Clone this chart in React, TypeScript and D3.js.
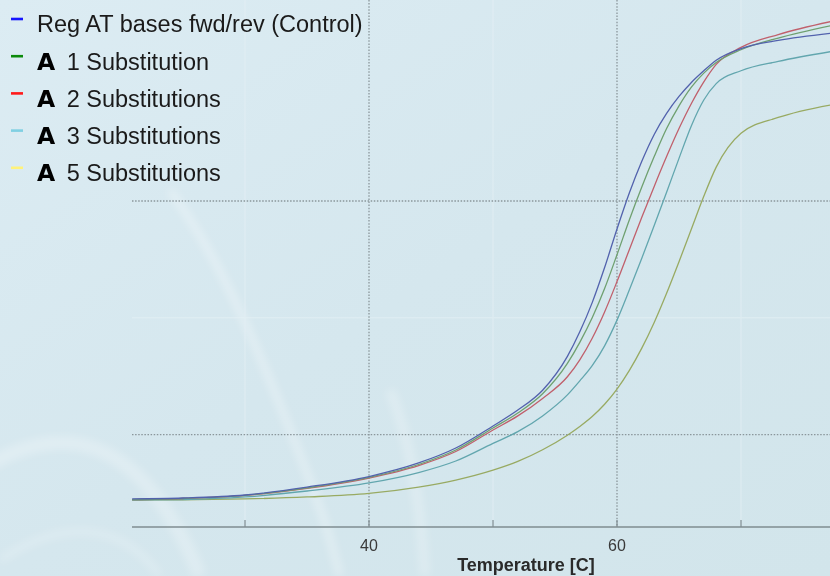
import React from "react";
import * as d3 from "d3";

const temps = [20.9, 25, 30, 35, 40, 44, 47, 50, 52, 54, 56, 57, 58, 59, 60, 61, 62, 63, 64, 65, 66, 67, 68, 70, 73, 77.2];

const control = [14.49, 14.57, 14.83, 15.51, 16.41, 17.57, 18.85, 20.74, 22.1, 23.8, 26.7, 28.8, 31.3, 34.3, 37.6, 40.7, 43.4, 45.7, 47.5, 48.95, 50.15, 51.15, 52.05, 53.05, 53.75, 54.36];
const sub1 = [14.44, 14.53, 14.79, 15.43, 16.33, 17.44, 18.68, 20.57, 21.85, 23.5, 26.1, 27.9, 30.0, 32.5, 35.4, 38.4, 41.2, 43.8, 46.2, 48.15, 49.75, 50.95, 51.85, 52.95, 53.95, 55.0];
const sub2 = [14.44, 14.53, 14.79, 15.39, 16.28, 17.35, 18.55, 20.39, 21.6, 23.1, 24.95, 26.4, 28.25, 30.5, 33.1, 35.85, 38.6, 41.25, 43.8, 46.2, 48.35, 50.2, 51.7, 53.15, 54.25, 55.35];
const sub3 = [14.4, 14.44, 14.66, 15.17, 15.86, 16.75, 17.74, 19.25, 20.25, 21.6, 23.4, 24.6, 25.9, 27.6, 29.8, 32.4, 35.1, 37.9, 40.75, 43.65, 46.45, 48.65, 50.05, 51.15, 51.95, 52.78];
const sub5 = [14.4, 14.42, 14.49, 14.66, 14.96, 15.5, 16.1, 16.95, 17.7, 18.7, 19.95, 20.7, 21.55, 22.6, 23.9, 25.5, 27.4, 29.6, 32.1, 34.8, 37.6, 40.4, 42.9, 45.8, 47.15, 48.22];

const xTicks = [30, 40, 50, 60, 70];
const xLabels = [40, 60];
const majorX = [40, 60];
const minorX = [30, 50, 70];
const majorY = [20, 40];
const minorY = [30];

const legendPrefix = ["", "A", "A", "A", "A"];
const legendLabels = ["Reg AT bases fwd/rev (Control)", "1 Substitution", "2 Substitutions", "3 Substitutions", "5 Substitutions"];
const legendColors = ["#1414ff", "#0b8a0b", "#ff1a1a", "#80d0e2", "#fff27a"];
const lineColors = ["#5262ad", "#6fa070", "#c0606c", "#62a6ae", "#98aa62"];
const seriesList = [control, sub1, sub2, sub3, sub5];

export default function App() {
  const W = 830;
  const H = 576;
  const plotLeft = 132;
  const axisY = 527;
  const x = d3.scaleLinear().domain([30, 70]).range([245, 741]);
  const y = d3.scaleLinear().domain([20, 40]).range([434.6, 201]);

  const line = (vals: number[]) =>
    d3
      .line<number>()
      .x((_, i) => x(temps[i]))
      .y((v) => y(v))
      .curve(d3.curveMonotoneX)(vals) || "";

  const drawOrder = [4, 3, 2, 1, 0];

  return (
    <svg width={W} height={H} style={{ position: "absolute", left: 0, top: 0 }} fontFamily="'Liberation Sans', Arial, sans-serif">
      <defs>
        <linearGradient id="bg" x1="0" y1="0" x2="1" y2="1">
          <stop offset="0" stopColor="#dcecf3" />
          <stop offset="0.5" stopColor="#d5e7ee" />
          <stop offset="1" stopColor="#d2e5eb" />
        </linearGradient>
        <filter id="blur" x="-20%" y="-20%" width="140%" height="140%">
          <feGaussianBlur stdDeviation="4" />
        </filter>
        <clipPath id="plot">
          <rect x={plotLeft} y={0} width={W - plotLeft} height={axisY} />
        </clipPath>
      </defs>
      <rect x={0} y={0} width={W} height={H} fill="url(#bg)" />
      {/* faint background swooshes */}
      <g filter="url(#blur)" fill="none" stroke="#ffffff">
        <path d="M170,190 C220,260 250,330 290,430 S330,540 340,576" strokeWidth={7} opacity={0.35} />
        <path d="M390,390 C410,440 420,500 425,576" strokeWidth={10} opacity={0.25} />
        <path d="M-20,470 C60,420 140,430 200,576" strokeWidth={14} opacity={0.25} />
        <path d="M0,560 C60,520 120,520 160,576" strokeWidth={8} opacity={0.2} />
      </g>

      {/* faint minor grid */}
      <g stroke="#e6f1f5" strokeWidth={1.5} opacity={0.5}>
        {minorX.map((t) => (
          <line key={"mx" + t} x1={x(t)} x2={x(t)} y1={0} y2={axisY} />
        ))}
        {minorY.map((v) => (
          <line key={"my" + v} x1={plotLeft} x2={W} y1={y(v)} y2={y(v)} />
        ))}
      </g>

      {/* dotted major grid */}
      <g stroke="#8a969b" strokeWidth={1.3} strokeDasharray="1.5 1.6">
        {majorX.map((t) => (
          <line key={"gx" + t} x1={x(t)} x2={x(t)} y1={0} y2={axisY} />
        ))}
        {majorY.map((v) => (
          <line key={"gy" + v} x1={plotLeft} x2={W} y1={y(v)} y2={y(v)} />
        ))}
      </g>

      {/* curves */}
      <g clipPath="url(#plot)" fill="none" strokeWidth={1.3} strokeLinejoin="round">
        {drawOrder.map((i) => (
          <path key={"s" + i} d={line(seriesList[i])} stroke={lineColors[i]} />
        ))}
      </g>

      {/* x axis */}
      <line x1={plotLeft} x2={W} y1={axisY} y2={axisY} stroke="#7f8c91" strokeWidth={1.6} />
      {xTicks.map((t) => (
        <line key={"t" + t} x1={x(t)} x2={x(t)} y1={axisY} y2={axisY - 7} stroke="#7f8c91" strokeWidth={1.2} />
      ))}
      {xLabels.map((t) => (
        <text key={"l" + t} x={x(t)} y={551} textAnchor="middle" fontSize={16} fill="#3a3a3a">
          {t}
        </text>
      ))}
      <text x={526} y={571} textAnchor="middle" fontSize={18} fontWeight="bold" fill="#2a2a2a">
        Temperature [C]
      </text>

      {/* legend */}
      {legendLabels.map((lab, i) => {
        const base = 32.3 + i * 37.2;
        return (
          <g key={"lg" + i}>
            <line x1={11} x2={23} y1={base - 13.3} y2={base - 13.3} stroke={legendColors[i]} strokeWidth={2.6} />
            <text x={37} y={base} fontSize={23.5} fill="#1a1a1a">
              {legendPrefix[i] ? (
                <>
                  <tspan fontWeight="900" fill="#000" fontFamily="'DejaVu Sans', 'Liberation Sans', sans-serif">{legendPrefix[i]}</tspan>
                  <tspan x={66.7}>{lab}</tspan>
                </>
              ) : (
                lab
              )}
            </text>
          </g>
        );
      })}
    </svg>
  );
}
